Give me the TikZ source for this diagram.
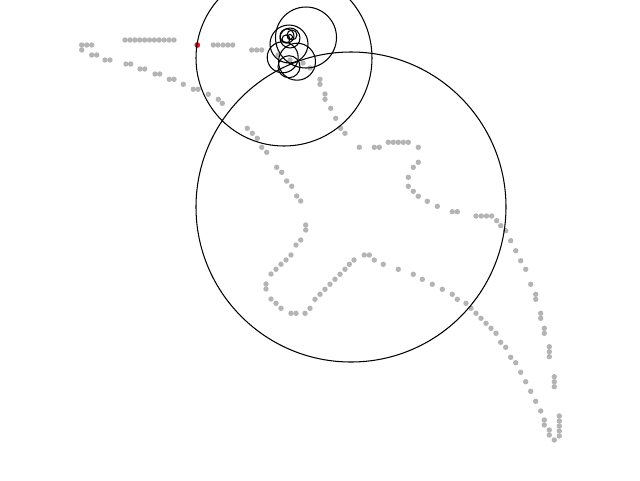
\documentclass[tikz,border=0pt]{standalone}
\definecolor{dotgray}{RGB}{180,180,180}
\definecolor{reddot}{RGB}{225,25,35}
\tikzset{
  dot/.style={fill=dotgray},
  ring/.style={draw=black, line width=1.05pt},
}
\begin{document}
\begin{tikzpicture}[x=1pt,y=-1pt]
\useasboundingbox[fill=white] (0,0) rectangle (640,480);
% gray dots
\foreach \x/\y in {
81.7/45,86.7/45,91.7/45,81.7/50,91.7/55,96.7/55,105/60,110/60,126/64,130.7/64,140/69,144.7/69,155/74,159.7/74,169.3/79.3,174/79.3,183.3/84.3,193.3/89.3,198/89.3,208.3/94.3,218.3/99.3,222.3/103.3,
247.3/128.3,252.3/133.3,257.3/138.3,261.7/147.3,266.7/152.3,276.7/167.3,281.7/172.3,286.7/181,291.7/186.3,296.7/196,300.7/201,305.7/225,305.7/230,300.7/240,296/245,291/255,286/260,281/264.3,276/269.3,271/274,266/284,266/289,271/299,276/303.3,281/308.3,291/313.3,296/313.3,305/313.3,310/308.3,315/299.3,320/294.3,325/289.3,330/284.3,335/279.3,340/274.3,345/269.3,349.3/264.3,354/260,364.3/255,369.3/255,374.3/260,383.3/264.3,398.3/269.3,413.3/274.3,422.3/279.3,432.3/284.3,442.3/289.3,452.3/294.3,457.3/299.3,466/303.3,471/308.3,476/313.3,481/318.3,486/323.3,491/328.3,496/333.3,500.7/342.3,505.7/347.3,510.7/357.3,515.7/362.7,520.7/372.3,525.7/381.7,530.7/391.3,535.7/401.3,540.7/411,544.3/420,544.3/425,549.3/430,549.3/435,554.3/440,
559.3/416,559.3/421,559.3/426,559.3/431,559.3/436,554.3/376.7,554.3/381.7,554.3/386.7,549.3/346.7,549.3/351.7,549.3/356.7,544.3/328.3,544.3/333.3,540.7/313.3,540.7/318.3,535.7/294.3,535.7/299.3,530.7/284.3,525.7/269.3,520.7/260.7,515.7/250.7,510.7/240.7,505.7/230.7,500.7/225.7,496.7/220.7,491.7/216,486.5/216,481.3/216,476/216,457.3/211.7,452.3/211.7,437.3/206.3,427.3/201.3,418.3/196.3,413.3/191.3,408.3/186.3,408.3/177.3,413.3/167.3,418.3/162.3,418.3/147.3,408.3/142.3,403.3/142.3,398.3/142.3,393.3/142.3,388.3/142.3,379.3/147.3,374.3/147.3,359.3/147.3,345/133.3,340.7/128.3,335.7/118.3,330.7/108.3,325/99.3,325/94,320/84.3,320/79.3,
310/68,303/63,290/60,278/55,261.7/50,256.7/50,251.7/50,
232.7/45,227.8/45,223/45,218/45,213.3/45,
125/40,129.9/40,134.8/40,139.7/40,144.6/40,149.5/40,154.4/40,159.3/40,164.2/40,169.1/40,174/40}
  \fill[dot] (\x,\y) circle (2.7);
% red dot
\fill[reddot] (197.3,45) circle (2.9);
% circles
\draw[ring] (351,207) circle (155);
\draw[ring] (284,58) circle (88);
\draw[ring] (306,37.5) circle (30.5);
\draw[ring] (289,44) circle (19);
\draw[ring] (297,61.7) circle (18.5);
\draw[ring] (282.7,57.3) circle (15.5);
\draw[ring] (289,66.7) circle (11);
\draw[ring] (290,38) circle (10);
\draw[ring] (287,36) circle (7);
\draw[ring] (292,35) circle (5);
\draw[ring] (286,39) circle (4);
\draw[ring] (290,37) circle (2.5);
\end{tikzpicture}
\end{document}
